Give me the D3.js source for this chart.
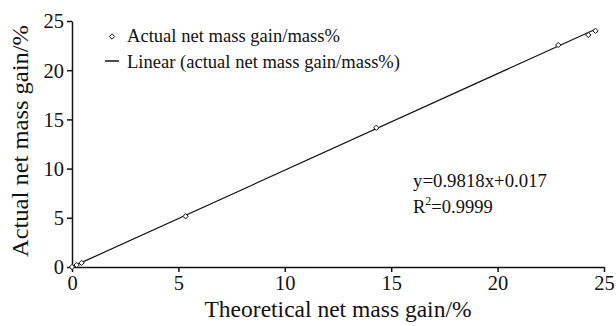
<!DOCTYPE html>
<html><head><meta charset="utf-8">
<script src="https://cdn.jsdelivr.net/npm/d3@7"></script>
<style>body{margin:0;background:#fff}svg{display:block}text{font-family:"Liberation Serif","Times New Roman",serif;fill:#111}</style>
</head><body><div id="c"></div>
<script>
const theoretical = [0, 0.22, 0.45, 5.34, 14.3, 22.85, 24.26, 24.6];
const actual      = [0, 0.2, 0.42, 5.15, 14.15, 22.56, 23.58, 24.0];
const xTicks = [0, 5, 10, 15, 20, 25];
const yTicks = [0, 5, 10, 15, 20, 25];
const slope = 0.9818, intercept = 0.017;
const legendLabels = ["Actual net mass gain/mass%", "Linear (actual net mass gain/mass%)"];
const eqLabel = "y=0.9818x+0.017";
const xTitle = "Theoretical net mass gain/%";
const yTitle = "Actual net mass gain/%";

const W = 616, H = 326;
const svg = d3.select("#c").append("svg").attr("width", W).attr("height", H);
const x = d3.scaleLinear().domain([0, 25]).range([72, 604]);
const y = d3.scaleLinear().domain([0, 25]).range([267, 21]);

const xa = svg.append("g").attr("transform", `translate(0,${y(0)})`)
  .call(d3.axisBottom(x).tickValues(xTicks).tickSize(5).tickPadding(3).tickSizeOuter(0));
const ya = svg.append("g").attr("transform", `translate(${x(0)},0)`)
  .call(d3.axisLeft(y).tickValues(yTicks).tickSize(5).tickPadding(3).tickSizeOuter(0));
[xa, ya].forEach(a => {
  a.select(".domain").attr("stroke", "#111").attr("stroke-width", 1.5);
  a.selectAll(".tick line").attr("stroke", "#111").attr("stroke-width", 1.5);
  a.selectAll(".tick text").style("font-family", '"Liberation Serif",serif').style("font-size", "20.5px").attr("fill", "#111");
});
xa.selectAll(".tick text").attr("dy", "0.72em");
ya.selectAll(".tick text").attr("dy", "0.34em");

// fitted line
const xmax = d3.max(theoretical);
svg.append("line")
  .attr("x1", x(0)).attr("y1", y(intercept))
  .attr("x2", x(xmax)).attr("y2", y(slope * xmax + intercept))
  .attr("stroke", "#111").attr("stroke-width", 1.2);

// points
const diamond = d3.symbol().type(d3.symbolDiamond2).size(18);
svg.selectAll("path.pt").data(theoretical.map((v, i) => [v, actual[i]])).enter()
  .append("path").attr("class", "pt")
  .attr("transform", d => `translate(${x(d[0])},${y(d[1])})`)
  .attr("d", diamond).attr("fill", "#fff").attr("stroke", "#111").attr("stroke-width", 1);

// legend
const lg = svg.append("g");
lg.append("path").attr("transform", "translate(112,36.5)").attr("d", diamond)
  .attr("fill", "#fff").attr("stroke", "#111").attr("stroke-width", 1);
lg.append("line").attr("x1", 105).attr("x2", 119).attr("y1", 61).attr("y2", 61).attr("stroke", "#111").attr("stroke-width", 1.5);
lg.append("text").attr("x", 127).attr("y", 42).style("font-size", "19px")
  .attr("textLength", 213).attr("lengthAdjust", "spacingAndGlyphs").text(legendLabels[0]);
lg.append("text").attr("x", 127).attr("y", 68).style("font-size", "19px")
  .attr("textLength", 273).attr("lengthAdjust", "spacingAndGlyphs").text(legendLabels[1]);

// equation
svg.append("text").attr("x", 413).attr("y", 187).style("font-size", "18.5px")
  .attr("textLength", 134).attr("lengthAdjust", "spacingAndGlyphs").text(eqLabel);
const r2 = svg.append("text").attr("x", 413).attr("y", 213).style("font-size", "18.5px");
r2.append("tspan").text("R");
r2.append("tspan").attr("dy", -8).style("font-size", "12px").text("2");
r2.append("tspan").attr("dy", 8).text("=0.9999");

// titles
svg.append("text").attr("x", 338).attr("y", 316.5).attr("text-anchor", "middle").style("font-size", "23.5px")
  .attr("textLength", 267).attr("lengthAdjust", "spacingAndGlyphs").text(xTitle);
svg.append("text").attr("transform", `translate(28,141) rotate(-90)`).attr("text-anchor", "middle").style("font-size", "23.5px")
  .attr("textLength", 232).attr("lengthAdjust", "spacingAndGlyphs").text(yTitle);
</script></body></html>
